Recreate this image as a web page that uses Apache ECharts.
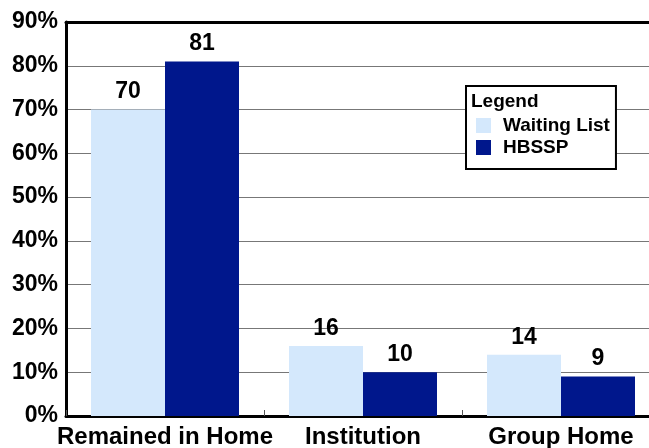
<!DOCTYPE html>
<html>
<head>
<meta charset="utf-8">
<script src="https://cdn.jsdelivr.net/npm/echarts@6/dist/echarts.min.js"></script>
<style>
  html, body { margin: 0; padding: 0; background: #fff; }
  #main { width: 649px; height: 448px; }
</style>
</head>
<body>
<div id="main"></div>
<script>
var categories = ['Remained in Home', 'Institution', 'Group Home'];
var waitingList = [70, 16, 14];
var hbssp = [81, 10, 9];

var myChart = echarts.init(document.getElementById('main'));
var fontFam = 'Liberation Sans, Arial, Helvetica, sans-serif';

myChart.setOption({
    animation: false,
    textStyle: { fontFamily: fontFam },
    title: {
        text: 'Legend',
        left: 471,
        top: 92,
        padding: 0,
        textStyle: { fontSize: 19, fontWeight: 'bold', color: '#000', fontFamily: fontFam }
    },
    legend: {
        left: 466,
        top: 86,
        orient: 'vertical',
        padding: [30, 6, 12, 10],
        itemWidth: 15,
        itemHeight: 15,
        itemGap: 3,
        backgroundColor: '#fff',
        borderColor: '#000',
        borderWidth: 2,
        icon: 'rect',
        data: ['Waiting List', 'HBSSP'],
        textStyle: { fontSize: 19, fontWeight: 'bold', color: '#000', padding: [0, 0, 0, 7] }
    },
    grid: { left: 66, top: 22, width: 594, height: 394, outerBoundsMode: 'none' },
    xAxis: [{
        type: 'category',
        data: categories,
        axisLine: { lineStyle: { color: '#000', width: 3 } },
        axisTick: { show: true, inside: true, interval: 0, length: 6, lineStyle: { color: '#555' } },
        axisLabel: { interval: 0, fontSize: 24, fontWeight: 'bold', color: '#000', margin: 9 }
    }, {
        type: 'category',
        position: 'top',
        data: categories,
        axisLine: { lineStyle: { color: '#000', width: 3 } },
        axisTick: { show: false },
        axisLabel: { show: false }
    }],
    yAxis: {
        type: 'value',
        min: 0,
        max: 90,
        interval: 10,
        axisLine: { show: true, lineStyle: { color: '#000', width: 3 } },
        axisTick: { show: false },
        splitLine: { lineStyle: { color: '#777', width: 1 } },
        axisLabel: { formatter: '{value}%', fontSize: 23, fontWeight: 'bold', color: '#000', margin: 8 }
    },
    series: [{
        name: 'Waiting List',
        type: 'bar',
        data: waitingList,
        barWidth: 74,
        barGap: '0%',
        itemStyle: { color: '#d4e8fc' },
        label: { show: true, position: 'top', distance: 6, fontSize: 23, fontWeight: 'bold', color: '#000' }
    }, {
        name: 'HBSSP',
        type: 'bar',
        data: hbssp,
        barWidth: 74,
        itemStyle: { color: '#00178c' },
        label: { show: true, position: 'top', distance: 6, fontSize: 23, fontWeight: 'bold', color: '#000' }
    }]
});
</script>
</body>
</html>
